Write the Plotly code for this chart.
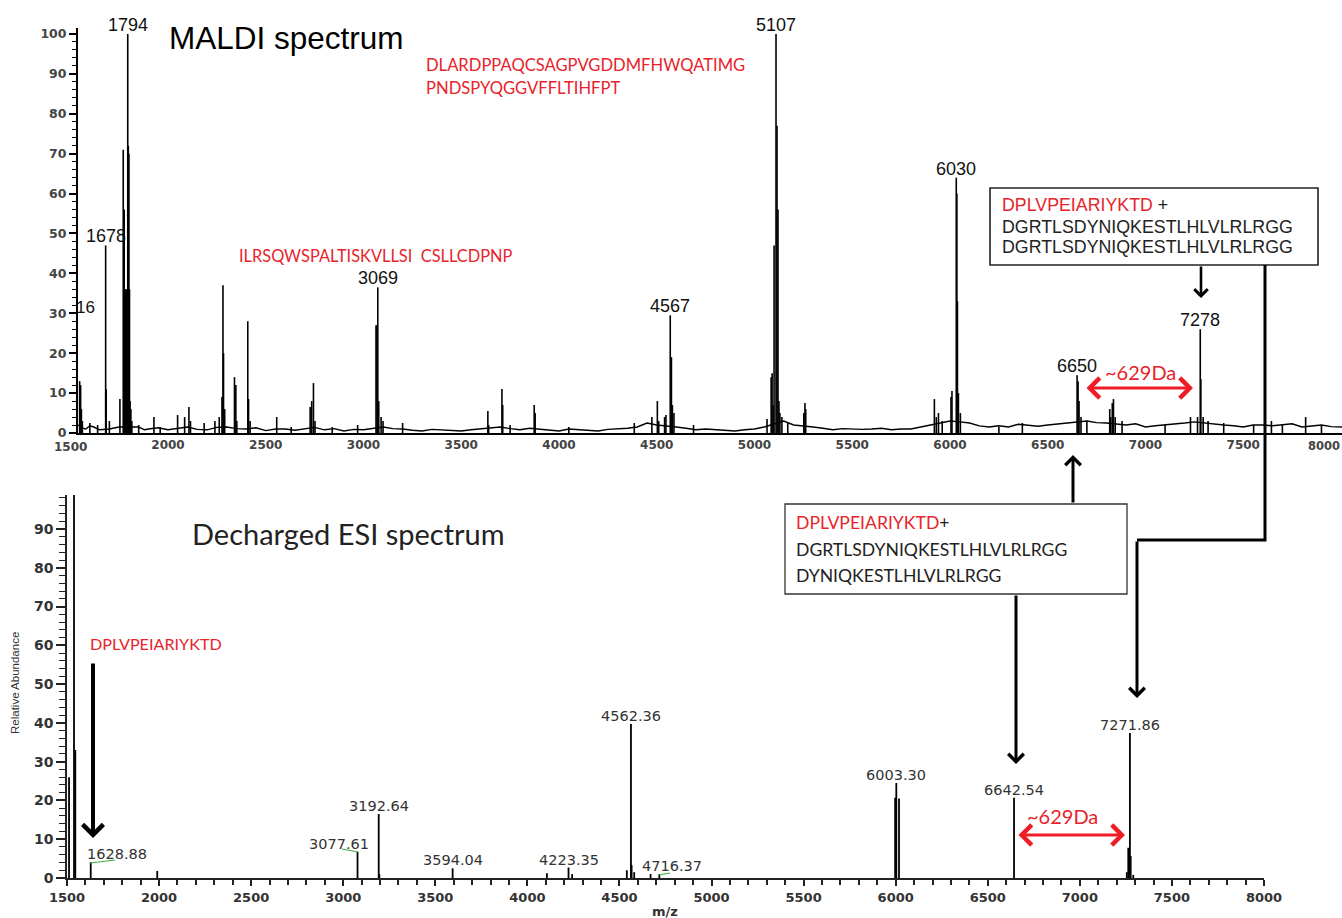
import plotly.graph_objects as go

W, H = 1342, 918

# ---------------- data ----------------
# MALDI spectrum: peak centroids (m/z) and relative intensities (%)
maldi_mz = [1548, 1553, 1557, 1562, 1600, 1640, 1681, 1684, 1700, 1754,
            1771, 1776, 1780, 1784, 1787, 1794, 1797, 1800, 1803, 1806, 1810, 1815,
            1850, 1928, 1960, 2049, 2085, 2107, 2115, 2185, 2240, 2262,
            2276, 2281, 2284, 2290, 2340, 2347, 2352, 2408, 2412, 2420,
            2556, 2630, 2727, 2735, 2744, 2752, 2840, 2970,
            3064, 3069, 3073, 3078, 3090, 3100, 3200,
            3636, 3640, 3708, 3712, 3750, 3873, 3878, 4050,
            4385, 4475, 4503, 4510, 4540, 4547, 4569, 4575, 4580, 4588, 4688,
            5064, 5085, 5090, 5095, 5100, 5110, 5115, 5120, 5125, 5130, 5140, 5170,
            5252, 5258, 5262,
            5920, 5930, 5941, 5960, 6005, 6010, 6032, 6035, 6038, 6043, 6053,
            6250, 6370, 6650, 6655, 6660, 6670, 6700,
            6817, 6822, 6830, 6836, 6845, 6880, 7100, 7230, 7266, 7280, 7283,
            7295, 7320, 7400, 7553, 7644, 7700, 7819, 7900]
maldi_int = [13, 12, 6, 3, 2.5, 2, 47, 11, 3, 8.5,
             71, 56, 36, 36, 36, 100, 72, 70, 36, 8, 6, 3,
             2, 4, 1.5, 4.5, 4, 6.5, 3, 2.5, 3, 4,
             9, 37, 20, 6, 14, 12, 3, 28, 8.5, 3,
             4, 1.5, 6.5, 8, 12.5, 3, 1.5, 2,
             27, 27, 36.5, 8, 4, 3, 2.5,
             5.5, 2, 11, 7, 2, 7, 5, 1.5,
             2.5, 4, 8, 3, 4, 4.5, 29.5, 19, 7, 5, 2,
             3.5, 14, 15, 7, 47, 100, 77, 56, 8, 5, 4, 2.5,
             5, 7.5, 6,
             8.5, 4, 5, 3, 9, 10.5, 64, 60, 33, 10, 5,
             1.5, 2.5, 14.5, 13, 8, 4, 3,
             6, 4, 7.5, 8.5, 4, 3, 2, 4, 4, 26, 13.5,
             4, 3, 2.5, 2, 3, 2, 4, 2]
# MALDI noisy baseline
maldi_base_mz = [1540, 1560, 1580, 1600, 1620, 1650, 1700, 1750, 1850, 1880, 1900, 1950,
                 2000, 2050, 2100, 2150, 2200, 2250, 2300, 2350, 2400, 2450, 2500,
                 2550, 2600, 2650, 2700, 2750, 2800, 2850, 2900, 2950, 3000, 3050,
                 3100, 3150, 3200, 3250, 3300, 3350, 3400, 3450, 3500, 3550, 3600,
                 3650, 3700, 3750, 3800, 3850, 3900, 3950, 4000, 4050, 4100, 4150,
                 4200, 4250, 4300, 4350, 4400, 4450, 4500, 4550, 4600, 4650, 4700,
                 4750, 4800, 4850, 4900, 4950, 5000, 5050, 5150, 5200, 5250, 5300,
                 5350, 5400, 5450, 5500, 5550, 5600, 5650, 5700, 5750, 5800, 5850,
                 5900, 6000, 6050, 6100, 6150, 6200, 6250, 6300, 6350, 6400, 6450,
                 6500, 6550, 6600, 6700, 6750, 6800, 6850, 6900, 6950, 7000, 7050,
                 7100, 7150, 7200, 7250, 7300, 7350, 7400, 7450, 7500, 7550, 7600,
                 7650, 7700, 7750, 7800, 7850, 7900, 7950, 8005]
maldi_base_int = [2, 1.2, 1, 1.8, 1.5, 0.8, 1, 1.5, 1.5, 0.8, 1, 1.3,
                  0.8, 1.2, 1.5, 0.9, 0.8, 1.4, 1.5, 1.1, 1, 1.3, 0.6,
                  1, 1, 0.7, 1, 1.4, 0.8, 1.1, 0.5, 0.9, 0.8, 1.2,
                  1.5, 1.1, 1, 0.7, 0.5, 0.9, 0.8, 0.6, 0.5, 0.8, 1,
                  1.2, 1.5, 1.1, 0.8, 1.2, 1, 0.7, 0.5, 1, 0.8, 0.6,
                  0.5, 0.9, 1, 1.2, 1.5, 2.5, 2, 1.8, 1.5, 1.2, 0.8,
                  1, 0.8, 0.6, 0.5, 0.8, 1, 1.5, 3, 2, 1.8, 1.5,
                  1.2, 0.8, 1.1, 1, 0.9, 1, 1.2, 0.8, 1, 1, 1.5,
                  2, 3, 2.8, 2.5, 1.8, 1.5, 1.8, 1.5, 2.2, 2, 1.7,
                  2, 2.2, 2.5, 3, 2.6, 2.5, 2.2, 2, 2.3, 1.5, 1.8,
                  2, 2.2, 2.5, 2.8, 2.5, 2.2, 2, 1.8, 1.5, 2, 2,
                  1.8, 2, 2.3, 1.5, 1.8, 2, 1.6, 1.5]
maldi_label_text = ["1794", "1678", "3069", "4567", "5107", "6030", "7278", "6650"]
maldi_label_mz = [1794, 1681, 3073, 4569, 5110, 6032, 7280, 6650]
maldi_label_int = [100, 47, 36.5, 29.5, 100, 64, 26, 14.5]

# Decharged ESI spectrum: sticks
esi_mz = [1511, 1538, 1545, 1628.88, 1990, 3077.61, 3192.64, 3196, 3594.04, 4106,
          4223.35, 4243, 4540, 4562.36, 4566, 4580, 4669, 4716.37,
          5997, 6003.30, 6018, 6642.54, 7255, 7263, 7271.86, 7276, 7290]
esi_int = [26, 100, 33, 4.1, 1.8, 6.8, 16.5, 1, 2.5, 1.2,
           2.7, 1, 2, 39.7, 3.3, 1.5, 1, 1,
           20.7, 24.5, 20.5, 20.7, 1.5, 7.8, 37.4, 5.7, 0.8]
esi_label_text = ["1628.88", "3077.61", "3192.64", "3594.04", "4223.35", "4562.36",
                  "4716.37", "6003.30", "6642.54", "7271.86"]
esi_label_mz = [1628.88, 3077.61, 3192.64, 3594.04, 4223.35, 4562.36,
                4716.37, 6003.30, 6642.54, 7271.86]
esi_label_int = [4.1, 6.8, 16.5, 2.5, 2.7, 39.7, 1, 24.5, 20.7, 37.4]

maldi_ticks = [2000, 2500, 3000, 3500, 4000, 4500, 5000, 5500, 6000, 6500, 7000, 7500]
esi_ticks = [1500, 2000, 2500, 3000, 3500, 4000, 4500, 5000, 5500, 6000, 6500, 7000, 7500, 8000]
maldi_yticks = [0, 10, 20, 30, 40, 50, 60, 70, 80, 90, 100]
esi_yticks = [0, 10, 20, 30, 40, 50, 60, 70, 80, 90]

# ---------------- helpers ----------------
def PX(x):
    return x / W


def PY(y):
    return 1 - y / H


def sticks(mz, it):
    xs, ys = [], []
    for m, v in zip(mz, it):
        xs += [m, m, None]
        ys += [0, v, None]
    return xs, ys


RED = "#e8232b"
fig = go.Figure()

fig.add_trace(go.Scatter(x=maldi_base_mz, y=maldi_base_int, mode="lines",
                         line=dict(color="black", width=1.4),
                         xaxis="x", yaxis="y", hoverinfo="skip"))
sx, sy = sticks(maldi_mz, maldi_int)
fig.add_trace(go.Scatter(x=sx, y=sy, mode="lines", line=dict(color="black", width=1.6),
                         xaxis="x", yaxis="y", hoverinfo="skip"))
ex, ey = sticks(esi_mz, esi_int)
fig.add_trace(go.Scatter(x=ex, y=ey, mode="lines", line=dict(color="black", width=1.8),
                         xaxis="x2", yaxis="y2", hoverinfo="skip"))

annotations = []
shapes = []

# MALDI peak labels
for t, m, v in zip(maldi_label_text, maldi_label_mz, maldi_label_int):
    annotations.append(dict(text=t, x=m, y=v, xref="x", yref="y", showarrow=False,
                            yanchor="bottom", xanchor="center", yshift=-3,
                            font=dict(family="Liberation Sans", size=18, color="#111")))

# ESI peak labels (style offsets)
esi_xshift = {"1628.88": 26, "3077.61": -19, "4716.37": 13}
for t, m, v in zip(esi_label_text, esi_label_mz, esi_label_int):
    annotations.append(dict(text=t, x=m, y=v, xref="x2", yref="y2", showarrow=False,
                            yanchor="bottom", xanchor="center", yshift=-2,
                            xshift=esi_xshift.get(t, 0),
                            font=dict(family="DejaVu Sans", size=14.5, color="#333")))


def text(t, x, y, size, family, color="black", xanchor="left", angle=0, weight="normal"):
    if xanchor == "left":
        x -= 3
    elif xanchor == "right":
        x += 3
    annotations.append(dict(text=t, x=PX(x), y=PY(y), xref="paper", yref="paper",
                            showarrow=False, xanchor=xanchor, yanchor="middle",
                            textangle=angle,
                            font=dict(family=family, size=size, color=color, weight=weight)))


text("MALDI spectrum", 170, 38, 31.5, "Liberation Sans")
text("DLARDPPAQCSAGPVGDDMFHWQATIMG", 427, 65, 16.6, "Lato", RED)
text("PNDSPYQGGVFFLTIHFPT", 427, 88, 16.6, "Lato", RED)
text("ILRSQWSPALTISKVLLSI\u00a0\u00a0CSLLCDPNP", 240, 255, 16.4, "Lato", RED)
text("16", 85, 307, 17, "Liberation Sans", "#111", xanchor="center")
text("~629Da", 1140, 372, 20, "Lato", RED, xanchor="center")
text("~629Da", 1062, 816, 20, "Lato", RED, xanchor="center")
text("Decharged ESI spectrum", 193, 533, 29, "Lato", "#222")
text("DPLVPEIARIYKTD", 91, 643, 16.2, "Lato", RED)
text("Relative Abundance", 15, 683, 11.5, "Liberation Sans", "#333", xanchor="center", angle=-90)
text("m/z", 665, 911, 13, "DejaVu Sans", "#333", xanchor="center", weight="bold")
text("1500", 70, 447, 12, "DejaVu Sans", "#444", xanchor="center", weight="bold")
text("8000", 1339, 446, 11.5, "DejaVu Sans", "#444", xanchor="right", weight="bold")

# box 1 (top)
shapes.append(dict(type="rect", xref="paper", yref="paper", x0=PX(990), x1=PX(1318),
                   y0=PY(265), y1=PY(188), line=dict(color="#222", width=1.6),
                   fillcolor="white", layer="above"))
text('<span style="color:%s">DPLVPEIARIYKTD</span> +' % RED, 1003, 205, 17.8, "Liberation Sans", "#222")
text("DGRTLSDYNIQKESTLHLVLRLRGG", 1003, 227, 17.8, "Liberation Sans", "#222")
text("DGRTLSDYNIQKESTLHLVLRLRGG", 1003, 247, 17.8, "Liberation Sans", "#222")

# box 2 (bottom)
shapes.append(dict(type="rect", xref="paper", yref="paper", x0=PX(785), x1=PX(1127),
                   y0=PY(594), y1=PY(504), line=dict(color="#333", width=1.3),
                   fillcolor="white", layer="above"))
text('<span style="color:%s">DPLVPEIARIYKTD</span>+' % RED, 797, 522, 17.6, "Lato", "#222")
text("DGRTLSDYNIQKESTLHLVLRLRGG", 797, 549, 17.6, "Lato", "#222")
text("DYNIQKESTLHLVLRLRGG", 797, 575, 17.6, "Lato", "#222")

# connector polyline from box 1 to lower spectrum
shapes.append(dict(type="path", xref="paper", yref="paper",
                   path="M %f,%f L %f,%f L %f,%f" % (PX(1265), PY(265), PX(1265), PY(540),
                                                      PX(1137), PY(540)),
                   line=dict(color="black", width=3)))

# small green label connectors
for (x0, y0, x1, y1) in [(90, 863, 115, 860), (342, 849, 358, 852), (658, 875, 670, 873)]:
    shapes.append(dict(type="line", xref="paper", yref="paper", x0=PX(x0), y0=PY(y0),
                       x1=PX(x1), y1=PY(y1), line=dict(color="#3cb043", width=1.2)))


def arrow(hx, hy, tx, ty, width=3, color="black", head=4, size=1.0, both=False):
    annotations.append(dict(text="", x=PX(hx), y=PY(hy), xref="paper", yref="paper",
                            showarrow=True, ax=tx - hx, ay=ty - hy, axref="pixel", ayref="pixel",
                            arrowhead=head, arrowsize=size, arrowwidth=width,
                            arrowcolor=color, standoff=0, startstandoff=0,
                            arrowside="end+start" if both else "end",
                            startarrowhead=head, startarrowsize=size))


arrow(1201, 298, 1201, 265, width=2.6)
arrow(1073, 455, 1073, 504, width=3)
arrow(1016, 764, 1016, 594, width=3)
arrow(1137, 698, 1137, 540, width=3)
arrow(93, 838, 93, 662, width=4, size=1.0)
arrow(1193, 388, 1085, 388, width=3, color="#ee1c25", head=4, size=1.3, both=True)
arrow(1125, 835, 1017, 835, width=3, color="#ee1c25", head=4, size=1.3, both=True)

tickfont_top = dict(family="DejaVu Sans", size=12, color="#444", weight="bold")
fig.update_layout(
    width=W, height=H, margin=dict(l=0, r=0, t=0, b=0, autoexpand=False),
    paper_bgcolor="white", plot_bgcolor="rgba(0,0,0,0)", showlegend=False,
    xaxis=dict(domain=[PX(78), 1.0], range=[1539.6, 8005], anchor="y", automargin=False,
               showgrid=False, zeroline=False, showline=True, linecolor="black", linewidth=2,
               ticks="", tickvals=maldi_ticks, tickfont=tickfont_top),
    yaxis=dict(domain=[PY(433), PY(28)], range=[0, 101.5], anchor="x", automargin=False,
               showgrid=False, zeroline=False, showline=True, linecolor="black", linewidth=2,
               ticks="outside", ticklen=7, tickwidth=1.5, tickcolor="black",
               tickvals=maldi_yticks,
               minor=dict(dtick=2, tick0=0, ticklen=4, ticks="outside", tickcolor="black", tickwidth=1),
               tickfont=dict(family="DejaVu Sans", size=12.5, color="#444", weight="bold")),
    xaxis2=dict(domain=[PX(67), PX(1264)], range=[1500, 8000], anchor="y2", automargin=False,
                showgrid=False, zeroline=False, showline=True, linecolor="#222", linewidth=2,
                ticks="outside", ticklen=6, tickwidth=1.5, tickcolor="#222",
                tickvals=esi_ticks,
                minor=dict(dtick=100, tick0=1500, ticklen=5, ticks="outside", tickcolor="#222", tickwidth=1.5),
                tickfont=dict(family="DejaVu Sans", size=13, color="#333", weight="bold")),
    yaxis2=dict(domain=[PY(878), PY(495)], range=[0, 98.77], anchor="x2", automargin=False,
                showgrid=False, zeroline=False, showline=True, linecolor="#222", linewidth=1.6,
                ticks="outside", ticklen=9, tickwidth=1.5, tickcolor="#222",
                tickvals=esi_yticks,
                minor=dict(dtick=2, tick0=0, ticklen=6, ticks="outside", tickcolor="#222", tickwidth=1),
                tickfont=dict(family="DejaVu Sans", size=14, color="#333", weight="bold")),
    annotations=annotations, shapes=shapes,
)

fig.write_html("out.html")
